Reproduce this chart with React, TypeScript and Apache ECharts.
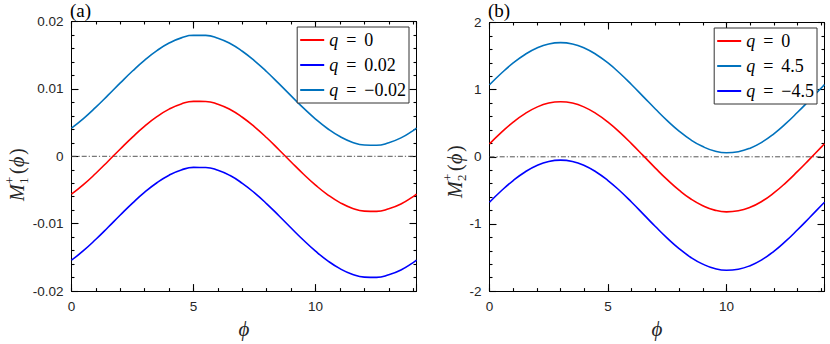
import React, { useEffect, useRef } from "react";
import * as echarts from "echarts";

// phi sample positions (0 .. 4.5*pi)
const PHI = [0, 0.5, 1, 1.5, 2, 2.5, 3, 3.5, 4, 4.5, 5, 5.5, 6, 6.5, 7, 7.5, 8, 8.5, 9, 9.5, 10, 10.5, 11, 11.5, 12, 12.5, 13, 13.5, 14, 14.137];
const X_MAX = 14.137;

// panel (a): M1+(phi)
const A_Q0 = [-0.00562, -0.00417, -0.00251, -0.00073, 0.00109, 0.00285, 0.00448, 0.00588, 0.007, 0.00777, 0.00815, 0.00814, 0.00773, 0.00694, 0.00579, 0.00437, 0.00275, 0.00098, -0.00084, -0.00262, -0.00427, -0.00571, -0.00687, -0.0077, -0.00813, -0.00817, -0.00779, -0.00707, -0.00598, -0.00562];
const A_QP = [-0.01542, -0.01397, -0.01231, -0.01053, -0.00871, -0.00695, -0.00532, -0.00392, -0.0028, -0.00203, -0.00165, -0.00166, -0.00207, -0.00286, -0.00401, -0.00543, -0.00705, -0.00882, -0.01064, -0.01242, -0.01407, -0.01551, -0.01667, -0.0175, -0.01793, -0.01797, -0.01759, -0.01687, -0.01578, -0.01542];
const A_QM = [0.00418, 0.00563, 0.00729, 0.00907, 0.01089, 0.01265, 0.01428, 0.01568, 0.0168, 0.01757, 0.01795, 0.01794, 0.01753, 0.01674, 0.01559, 0.01417, 0.01255, 0.01078, 0.00896, 0.00718, 0.00553, 0.00409, 0.00293, 0.0021, 0.00167, 0.00163, 0.00201, 0.00273, 0.00382, 0.00418];

// panel (b): M2+(phi)
const B_Q0 = [0.193, 0.364, 0.517, 0.644, 0.74, 0.8, 0.82, 0.8, 0.74, 0.644, 0.517, 0.364, 0.193, 0.013, -0.168, -0.341, -0.497, -0.629, -0.728, -0.794, -0.82, -0.804, -0.751, -0.662, -0.538, -0.387, -0.217, -0.038, 0.144, 0.194];
const B_QP = [1.073, 1.244, 1.397, 1.524, 1.62, 1.68, 1.7, 1.68, 1.62, 1.524, 1.397, 1.244, 1.073, 0.893, 0.712, 0.539, 0.383, 0.251, 0.152, 0.086, 0.06, 0.076, 0.129, 0.218, 0.342, 0.493, 0.663, 0.842, 1.024, 1.074];
const B_QM = [-0.677, -0.506, -0.353, -0.226, -0.13, -0.07, -0.05, -0.07, -0.13, -0.226, -0.353, -0.506, -0.677, -0.857, -1.038, -1.211, -1.367, -1.499, -1.598, -1.664, -1.69, -1.674, -1.621, -1.532, -1.408, -1.257, -1.087, -0.908, -0.726, -0.676];

const ZERO_X = [0, X_MAX];
const ZERO_Y = [0, 0];

const LEGEND_A = [
  { key: "a_q0", q: "0" },
  { key: "a_qp", q: "0.02" },
  { key: "a_qm", q: "\u22120.02" },
];
const LEGEND_B = [
  { key: "b_q0", q: "0" },
  { key: "b_qp", q: "4.5" },
  { key: "b_qm", q: "\u22124.5" },
];

const RED = "#ff0000";
const BLUE = "#0000ff";
const CYAN = "#0072bd";
const AXIS = "#000000";
const LABEL = "#262626";
const SERIF = "'Liberation Serif', 'DejaVu Serif', serif";
const SANS = "'Liberation Sans', Arial, sans-serif";

const zip = (xs: number[], ys: number[]) => xs.map((x, i) => [x, ys[i]]);

const tick = (len: number) => ({ show: true, inside: true, length: len, lineStyle: { color: AXIS, width: 1.1 } });

function xAxes(grid: number) {
  const base = {
    gridIndex: grid,
    type: "value",
    min: 0,
    max: X_MAX,
    splitLine: { show: false },
    axisLine: { show: true, onZero: false, lineStyle: { color: AXIS, width: 1 } },
  };
  return [
    {
      ...base,
      position: "bottom",
      interval: 1,
      axisTick: tick(3),
      axisLabel: {
        show: true,
        showMaxLabel: false,
        margin: 8,
        color: LABEL,
        fontFamily: SANS,
        fontSize: 13.5,
        formatter: (v: number) => (Math.abs(v % 5) < 1e-9 ? String(v) : ""),
      },
      name: "\u03d5",
      nameLocation: "middle",
      nameGap: 14,
      nameTextStyle: { fontFamily: SERIF, fontStyle: "italic", fontSize: 21, color: LABEL },
    },
    {
      ...base,
      position: "bottom",
      interval: 5,
      axisLine: { show: false, onZero: false },
      axisTick: tick(7),
      axisLabel: { show: false },
    },
    {
      ...base,
      position: "top",
      interval: 1,
      axisTick: tick(3),
      axisLabel: { show: false },
    },
    {
      ...base,
      position: "top",
      interval: 5,
      axisLine: { show: false, onZero: false },
      axisTick: tick(7),
      axisLabel: { show: false },
    },
  ];
}

function yAxes(grid: number, min: number, max: number, interval: number) {
  const base = {
    gridIndex: grid,
    type: "value",
    min,
    max,
    interval,
    splitLine: { show: false },
    axisLine: { show: true, onZero: false, lineStyle: { color: AXIS, width: 1 } },
    axisTick: tick(7),
    minorTick: { show: true, splitNumber: 5, length: 3, lineStyle: { color: AXIS, width: 1.1 } },
  };
  return [
    {
      ...base,
      position: "left",
      axisLabel: { show: true, margin: 8, color: LABEL, fontFamily: SANS, fontSize: 13.5 },
    },
    { ...base, position: "right", axisLabel: { show: false } },
  ];
}

function curve(name: string, xi: number, yi: number, ys: number[], color: string) {
  return {
    name,
    type: "line",
    xAxisIndex: xi,
    yAxisIndex: yi,
    data: zip(PHI, ys),
    smooth: true,
    symbol: "none",
    lineStyle: { color, width: 1.6 },
    itemStyle: { color },
    z: 3,
  };
}

function zeroLine(xi: number, yi: number) {
  return {
    name: "zero" + xi,
    type: "line",
    xAxisIndex: xi,
    yAxisIndex: yi,
    data: zip(ZERO_X, ZERO_Y),
    symbol: "none",
    silent: true,
    lineStyle: { color: "#555555", width: 1, type: [5, 2, 1.2, 2] },
    z: 2,
  };
}

function legend(items: { key: string; q: string }[], right: number, top: number) {
  const map: Record<string, string> = {};
  items.forEach((it) => (map[it.key] = it.q));
  return {
    data: items.map((it) => ({ name: it.key, icon: "rect" })),
    orient: "vertical",
    right,
    top,
    itemWidth: 24,
    itemHeight: 2,
    itemGap: 7,
    padding: [4, 3, 4, 3],
    borderColor: "#333333",
    borderWidth: 1,
    borderRadius: 0,
    backgroundColor: "#ffffff",
    selectedMode: false,
    formatter: (n: string) => `{q|q}{e|=}{n|${map[n]}}`,
    textStyle: {
      fontFamily: SERIF,
      fontSize: 18,
      color: "#000",
      lineHeight: 17,
      rich: {
        q: { fontFamily: SERIF, fontStyle: "italic", fontSize: 18, color: "#000", lineHeight: 17 },
        e: { fontFamily: SERIF, fontSize: 18, color: "#000", padding: [0, 8, 0, 8], lineHeight: 17 },
        n: { fontFamily: SERIF, fontSize: 18, color: "#000", lineHeight: 17 },
      },
    },
  };
}

function yLabel(x: number, y: number, sub: string) {
  return {
    type: "group",
    x,
    y,
    rotation: Math.PI / 2,
    silent: true,
    children: [
      { type: "text", x: 0, y: 0, style: { text: "M", fontFamily: SERIF, fontStyle: "italic", fontSize: 20, fill: LABEL, verticalAlign: "middle", align: "left" } },
      { type: "text", x: 17, y: -8, style: { text: "+", fontFamily: SERIF, fontSize: 13, fill: LABEL, verticalAlign: "middle", align: "left" } },
      { type: "text", x: 17, y: 6, style: { text: sub, fontFamily: SERIF, fontSize: 13, fill: LABEL, verticalAlign: "middle", align: "left" } },
      { type: "text", x: 27, y: 0, style: { text: "(", fontFamily: SERIF, fontSize: 20, fill: LABEL, verticalAlign: "middle", align: "left" } },
      { type: "text", x: 34, y: 0, style: { text: "\u03d5", fontFamily: SERIF, fontStyle: "italic", fontSize: 20, fill: LABEL, verticalAlign: "middle", align: "left" } },
      { type: "text", x: 46, y: 0, style: { text: ")", fontFamily: SERIF, fontSize: 20, fill: LABEL, verticalAlign: "middle", align: "left" } },
    ],
  };
}

export default function App() {
  const ref = useRef<HTMLDivElement>(null);
  useEffect(() => {
    if (!ref.current) return;
    const chart = echarts.init(ref.current, undefined, { renderer: "svg" });
    const option: any = {
      animation: false,
      backgroundColor: "#ffffff",
      grid: [
        { left: 71.5, top: 21.5, width: 345, height: 290 },
        { left: 489.5, top: 22.5, width: 335, height: 290 },
      ],
      xAxis: [...xAxes(0), ...xAxes(1)],
      yAxis: [...yAxes(0, -0.02, 0.02, 0.01), ...yAxes(1, -2, 2, 1)],
      legend: [legend(LEGEND_A, 421, 27), legend(LEGEND_B, 13, 28)],
      title: [
        { text: "(a)", left: 70, top: 1, padding: 0, textStyle: { fontFamily: SERIF, fontWeight: "normal", fontSize: 19, color: "#000" } },
        { text: "(b)", left: 488, top: 1, padding: 0, textStyle: { fontFamily: SERIF, fontWeight: "normal", fontSize: 19, color: "#000" } },
      ],
      graphic: [yLabel(17, 201, "1"), yLabel(455, 198, "2")],
      series: [
        zeroLine(0, 0),
        curve("a_q0", 0, 0, A_Q0, RED),
        curve("a_qp", 0, 0, A_QP, BLUE),
        curve("a_qm", 0, 0, A_QM, CYAN),
        zeroLine(4, 2),
        curve("b_q0", 4, 2, B_Q0, RED),
        curve("b_qp", 4, 2, B_QP, CYAN),
        curve("b_qm", 4, 2, B_QM, BLUE),
      ],
    };
    chart.setOption(option);
    return () => chart.dispose();
  }, []);
  return (
    <div
      ref={ref}
      style={{ position: "fixed", left: 0, top: 0, width: 830, height: 344, background: "#fff" }}
    />
  );
}
